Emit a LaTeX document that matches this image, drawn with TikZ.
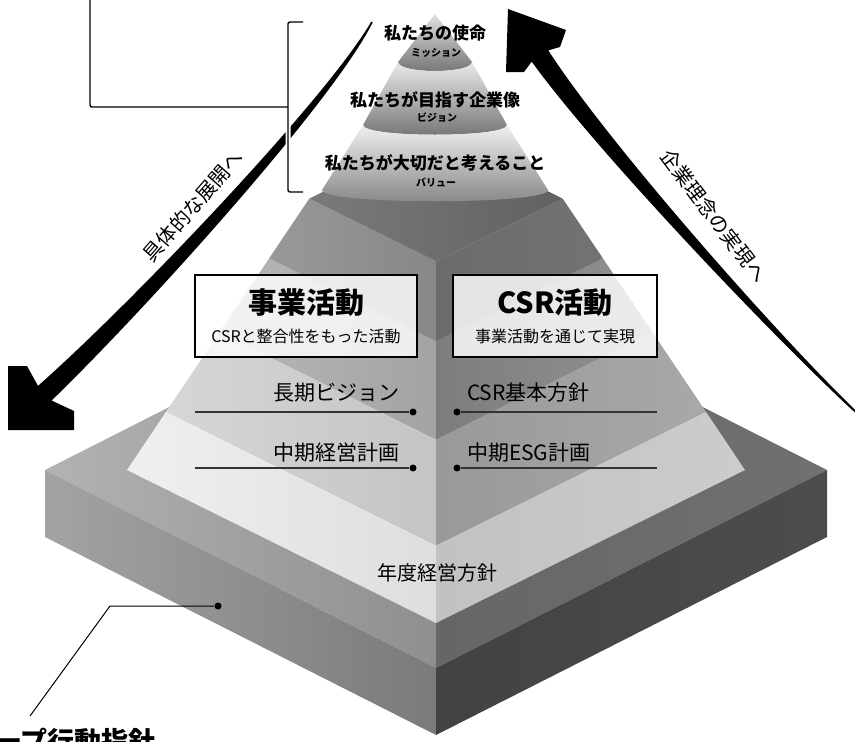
\documentclass[tikz,border=0pt]{standalone}
\usepackage{fontspec}
\newfontfamily\jpfont{Noto Sans CJK JP}
\newlength{\du}
\setlength{\du}{10pt}
\tikzset{
  conetitle/.style={inner sep=0pt,outer sep=0pt,color=black,font=\jpfont\bfseries\fontsize{17pt}{17pt}\selectfont},
  conesub/.style={inner sep=0pt,outer sep=0pt,color=black,font=\jpfont\bfseries\fontsize{10pt}{10pt}\selectfont},
  tiertext/.style={inner sep=0pt,outer sep=0pt,color=black,font=\jpfont\fontsize{21pt}{21pt}\selectfont},
  acthead/.style={inner sep=0pt,outer sep=0pt,color=black,font=\jpfont\bfseries\fontsize{29pt}{29pt}\selectfont},
  actsub/.style={inner sep=0pt,outer sep=0pt,color=black,font=\jpfont\fontsize{16pt}{16pt}\selectfont},
  actbox/.style={draw=black,line width=2pt,fill=white,fill opacity=0.82,minimum width=222pt,minimum height=82pt,inner sep=0pt},
  flowtext/.style={inner sep=0pt,outer sep=0pt,color=black,font=\jpfont\fontsize{20pt}{20pt}\selectfont},
  grouptext/.style={inner sep=0pt,outer sep=0pt,color=black,font=\jpfont\bfseries\fontsize{27pt}{27pt}\selectfont},
  leaderdot/.style={circle,fill=black,inner sep=0pt,minimum size=7pt},
  tierline/.style={line width=1.3pt,draw=black!80},
  bracketline/.style={line width=1.4pt,draw=black,rounded corners=2pt},
}
\begin{document}
\begin{tikzpicture}
\pgftransformxscale{1.000000}
\pgftransformyscale{-1.000000}
\useasboundingbox (0\du,0\du) rectangle (85.5\du,74.2\du);
\clip (0\du,0\du) rectangle (85.5\du,74.2\du);
\pgfsetlinewidth{0.100000\du}
\pgfsetdash{}{0pt}
\pgfsetmiterjoin
\pgfsetbuttcap
% base slab
{\pgfsetcornersarced{\pgfpoint{0.000000\du}{0.000000\du}}
\shade[left color=black!30,right color=black!44] (4.5\du,47.0\du)--(43.6\du,27.2\du)--(43.6\du,66.8\du)--cycle;
\shade[left color=black!60,right color=black!56] (43.6\du,27.2\du)--(82.7\du,47.0\du)--(43.6\du,66.8\du)--cycle;
\shade[left color=black!36,right color=black!52] (4.5\du,47.0\du)--(43.6\du,66.8\du)--(43.6\du,73.5\du)--(4.5\du,53.7\du)--cycle;
\shade[left color=black!74,right color=black!70] (43.6\du,66.8\du)--(82.7\du,47.0\du)--(82.7\du,53.7\du)--(43.6\du,73.5\du)--cycle;
}
% pyramid tiers
{\pgfsetcornersarced{\pgfpoint{0.000000\du}{0.000000\du}}
\shade[left color=black!6,right color=black!13] (12.7\du,47.0\du)--(43.6\du,62.3\du)--(43.6\du,54.52\du)--(16.62\du,41.16\du)--cycle;
\shade[left color=black!24,right color=black!20] (74.5\du,47.0\du)--(43.6\du,62.3\du)--(43.6\du,54.52\du)--(70.58\du,41.16\du)--cycle;
\shade[left color=black!16,right color=black!23] (16.62\du,41.16\du)--(43.6\du,54.52\du)--(43.6\du,43.91\du)--(21.97\du,33.2\du)--cycle;
\shade[left color=black!40,right color=black!34] (70.58\du,41.16\du)--(43.6\du,54.52\du)--(43.6\du,43.91\du)--(65.23\du,33.2\du)--cycle;
\shade[left color=black!28,right color=black!36] (21.97\du,33.2\du)--(43.6\du,43.91\du)--(43.6\du,34.1\du)--(26.91\du,25.84\du)--cycle;
\shade[left color=black!51,right color=black!43] (65.23\du,33.2\du)--(43.6\du,43.91\du)--(43.6\du,34.1\du)--(60.29\du,25.84\du)--cycle;
\shade[left color=black!40,right color=black!47] (26.91\du,25.84\du)--(43.6\du,34.1\du)--(43.6\du,26.13\du)--(30.93\du,19.86\du)--cycle;
\shade[left color=black!58,right color=black!55] (60.29\du,25.84\du)--(43.6\du,34.1\du)--(43.6\du,26.13\du)--(56.27\du,19.86\du)--cycle;
\shade[left color=black!52,right color=black!62] (30.93\du,19.86\du)--(43.6\du,13.59\du)--(56.27\du,19.86\du)--(43.6\du,26.13\du)--cycle;
}
% cone on top
{\pgfsetcornersarced{\pgfpoint{0.000000\du}{0.000000\du}}
\shade[top color=black!12,bottom color=black!55] (43.5\du,1.4\du)--(39.8\du,6.2\du) .. controls (39.8\du,7.4\du) and (47.2\du,7.4\du) .. (47.2\du,6.2\du)--cycle;
\shade[top color=black!8,bottom color=black!55] (39.8\du,6.2\du) .. controls (39.8\du,7.4\du) and (47.2\du,7.4\du) .. (47.2\du,6.2\du)--(50.7\du,12.5\du) .. controls (50.7\du,13.8\du) and (36.3\du,13.8\du) .. (36.3\du,12.5\du)--cycle;
\shade[top color=black!6,bottom color=black!48] (36.3\du,12.5\du) .. controls (36.3\du,13.8\du) and (50.7\du,13.8\du) .. (50.7\du,12.5\du)--(54.8\du,19.0\du) .. controls (54.8\du,20.5\du) and (32.2\du,20.5\du) .. (32.2\du,19.0\du)--cycle;
}
% flow arrows
\definecolor{diafillcolor}{rgb}{0.000000, 0.000000, 0.000000}
\pgfsetfillcolor{diafillcolor}
\fill (0.8\du,43.0\du)--(7.4\du,43.0\du)--(7.4\du,41.1\du)--(5.16\du,40.05\du) .. controls (14.5\du,31.0\du) and (33.3\du,10.2\du) .. (37.27\du,2.24\du)--(37.13\du,2.16\du) .. controls (32.7\du,9.8\du) and (13.5\du,30.0\du) .. (3.8\du,38.59\du)--(2.7\du,36.6\du)--(0.8\du,36.6\du)--cycle;
\fill (50.8\du,0.9\du)--(56.6\du,3.0\du)--(56.0\du,4.7\du)--(54.83\du,5.04\du) .. controls (60.8\du,14.3\du) and (77.94\du,33.75\du) .. (85.87\du,41.33\du)--(85.73\du,41.47\du) .. controls (77.66\du,34.05\du) and (59.6\du,15.1\du) .. (53.17\du,6.16\du)--(52.4\du,7.2\du)--(50.6\du,7.2\du)--cycle;
% bracket and box line
\coordinate (boxcorner) at (9.0\du,-1.0\du);
\coordinate (brkmid) at (28.8\du,10.7\du);
\coordinate (brktop) at (30.3\du,2.2\du);
\coordinate (brkbot) at (30.3\du,19.2\du);
\draw[bracketline,white,line width=5pt] (brktop) -| (brkmid) |- (brkbot);
\draw[bracketline] (brktop) -| (brkmid) |- (brkbot);
\draw[bracketline] (boxcorner) |- (brkmid);
% setfont left to latex
\node[conetitle] (mission) at (43.5\du,3.3\du) {私たちの使命};
\node[conesub] (missionsub) at (43.6\du,5.3\du) {ミッション};
\node[conetitle] (vision) at (43.5\du,10.0\du) {私たちが目指す企業像};
\node[conesub] (visionsub) at (43.7\du,11.8\du) {ビジョン};
\node[conetitle] (values) at (43.5\du,16.3\du) {私たちが大切だと考えること};
\node[conesub] (valuessub) at (43.6\du,18.3\du) {バリュー};
% setfont left to latex
\node[actbox] (bizbox) at (30.6\du,31.6\du) {};
\node[acthead] (bizhead) at (30.6\du,30.3\du) {事業活動};
\node[actsub] (bizsub) at (30.6\du,33.6\du) {CSRと整合性をもった活動};
\node[actbox,minimum width=204pt] (csrbox) at (55.5\du,31.6\du) {};
\node[acthead] (csrhead) at (55.5\du,30.3\du) {CSR活動};
\node[actsub] (csrsub) at (55.5\du,33.6\du) {事業活動を通じて実現};
% setfont left to latex
\node[tiertext] (longvision) at (33.65\du,39.3\du) {長期ビジョン};
\node[tiertext,anchor=west] (csrpolicy) at (46.7\du,39.3\du) {CSR基本方針};
\node[tiertext] (midplan) at (33.65\du,45.3\du) {中期経営計画};
\node[tiertext,anchor=west] (esgplan) at (46.7\du,45.3\du) {中期ESG計画};
\node[tiertext,font=\jpfont\fontsize{20pt}{20pt}\selectfont] (yearpolicy) at (43.7\du,57.3\du) {年度経営方針};
\node[leaderdot] (lvdot) at (41.3\du,41.2\du) {};
\node[leaderdot] (cpdot) at (45.7\du,41.2\du) {};
\node[leaderdot] (mpdot) at (41.3\du,46.8\du) {};
\node[leaderdot] (epdot) at (45.7\du,46.8\du) {};
\coordinate (lvend) at (19.5\du,41.2\du);
\coordinate (cpend) at (65.7\du,41.2\du);
\coordinate (mpend) at (19.5\du,46.8\du);
\coordinate (epend) at (65.7\du,46.8\du);
\draw[tierline] (lvend) -- (lvdot);
\draw[tierline] (cpdot) -- (cpend);
\draw[tierline] (mpend) -- (mpdot);
\draw[tierline] (epdot) -- (epend);
% setfont left to latex
\node[flowtext,rotate=49] (downflow) at (19.3\du,20.6\du) {具体的な展開へ};
\node[flowtext,rotate=-53] (upflow) at (71.4\du,21.6\du) {企業理念の実現へ};
% group guideline leader
\node[leaderdot] (slabdot) at (21.8\du,60.6\du) {};
\coordinate (slabbend) at (11.0\du,60.6\du);
\coordinate (slabend) at (3.0\du,71.6\du);
\draw[line width=1pt] (slabdot) -- (slabbend) -- (slabend);
\node[grouptext,anchor=base west] (groupcode) at (-0.5\du,75.1\du) {ープ行動指針};
\end{tikzpicture}
\end{document}
